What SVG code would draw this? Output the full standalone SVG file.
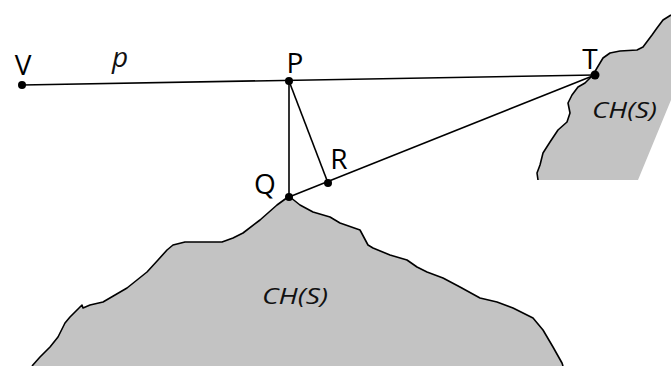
<svg xmlns="http://www.w3.org/2000/svg" width="671" height="366" viewBox="0 0 671 366">
<style>
.lbl{font-family:"Open Sans","Liberation Sans",sans-serif;font-size:28px;fill:#000}
.it{font-family:"Open Sans","Liberation Sans",sans-serif;font-style:italic;font-size:22px;fill:#111}
.hull{fill:#c3c3c3;stroke:none}
.edge{fill:none;stroke:#000;stroke-width:1.6;stroke-linejoin:round}
.con{stroke:#000;stroke-width:1.6;fill:none}
.dot{fill:#000}
</style>
<rect width="671" height="366" fill="#fff"/>
<g id="hull-bottom">
<polygon class="hull" points="288,197 277,205 260,220 243,233 233,238 222,242 185,242 173,245 167,250 158,260 147,272 137,280 127,288 115,295 103,302 90,305 83,308 82,305 70,317 65,323 58,337 50,347 40,357 32,366 563,366 562,363 553,347 543,330 533,318 513,308 497,302 480,298 460,287 443,278 427,272 417,267 407,260 390,255 373,248 368,245 360,230 340,223 330,217 313,212 300,205 290,197"/>
<polyline class="edge" points="32,366 40,357 50,347 58,337 65,323 70,317 82,305 83,308 90,305 103,302 115,295 127,288 137,280 147,272 158,260 167,250 173,245 185,242 222,242 233,238 243,233 260,220 277,205 288,197 290,197 300,205 313,212 330,217 340,223 360,230 368,245 373,248 390,255 407,260 417,267 427,272 443,278 460,287 480,298 497,302 513,308 533,318 543,330 553,347 562,363 563,366"/>
<text class="it" x="262" y="304" textLength="66" lengthAdjust="spacingAndGlyphs">CH(S)</text>
</g>
<g id="hull-right">
<polygon class="hull" points="671,15 663,20 657,28 652,35 643,47 637,50 620,51 610,53 603,58 597,68 593,75 585,83 578,87 572,95 568,103 570,113 567,122 558,130 550,142 543,153 540,165 537,173 538,180 638,180 671,100"/>
<polyline class="edge" points="671,15 663,20 657,28 652,35 643,47 637,50 620,51 610,53 603,58 597,68 593,75 585,83 578,87 572,95 568,103 570,113 567,122 558,130 550,142 543,153 540,165 537,173 538,180"/>
<text class="it" x="592" y="118" textLength="65" lengthAdjust="spacingAndGlyphs">CH(S)</text>
</g>
<g id="connectors">
<line class="con" x1="22" y1="85" x2="595" y2="75"/>
<line class="con" x1="289" y1="81" x2="289" y2="197"/>
<line class="con" x1="289" y1="81" x2="328" y2="183"/>
<line class="con" x1="289" y1="197" x2="595" y2="75"/>
<text class="it" x="112" y="67" style="font-size:28px">p</text>
</g>
<g id="V"><circle class="dot" cx="22" cy="85" r="4"/><text class="lbl" x="23" y="75" text-anchor="middle">V</text></g>
<g id="P"><circle class="dot" cx="289" cy="81" r="4"/><text class="lbl" x="295" y="73" text-anchor="middle">P</text></g>
<g id="T"><circle class="dot" cx="595" cy="75" r="4.5"/><text class="lbl" x="590" y="69" text-anchor="middle">T</text></g>
<g id="Q"><circle class="dot" cx="289" cy="197" r="4"/><text class="lbl" x="265" y="194" text-anchor="middle">Q</text></g>
<g id="R"><circle class="dot" cx="328" cy="183" r="4"/><text class="lbl" x="339" y="169" text-anchor="middle">R</text></g>
</svg>
